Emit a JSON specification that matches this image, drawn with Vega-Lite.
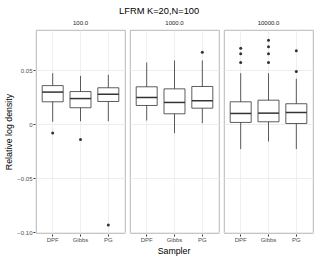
{
  "$schema": "https://vega.github.io/schema/vega-lite/v6.json",
  "padding": {"left": 4, "top": 6, "right": 3, "bottom": 0},
  "title": {"text": "LFRM K=20,N=100", "fontSize": 9.3, "fontWeight": "normal", "font": "Liberation Sans", "color": "#000000", "anchor": "middle", "offset": 4},
  "data": {"values": [
    {"N": "100.0", "Sampler": "DPF", "kind": "box", "lo": 0.0025, "q1": 0.021, "med": 0.030, "q3": 0.036, "hi": 0.0475},
    {"N": "100.0", "Sampler": "Gibbs", "kind": "box", "lo": 0.003, "q1": 0.0155, "med": 0.024, "q3": 0.0305, "hi": 0.045},
    {"N": "100.0", "Sampler": "PG", "kind": "box", "lo": 0.003, "q1": 0.0213, "med": 0.028, "q3": 0.034, "hi": 0.046},
    {"N": "1000.0", "Sampler": "DPF", "kind": "box", "lo": 0.0037, "q1": 0.0176, "med": 0.025, "q3": 0.0349, "hi": 0.0574},
    {"N": "1000.0", "Sampler": "Gibbs", "kind": "box", "lo": -0.008, "q1": 0.0099, "med": 0.0204, "q3": 0.033, "hi": 0.0593},
    {"N": "1000.0", "Sampler": "PG", "kind": "box", "lo": 0.0012, "q1": 0.0151, "med": 0.022, "q3": 0.0352, "hi": 0.0593},
    {"N": "10000.0", "Sampler": "DPF", "kind": "box", "lo": -0.0228, "q1": 0.0019, "med": 0.0102, "q3": 0.021, "hi": 0.0475},
    {"N": "10000.0", "Sampler": "Gibbs", "kind": "box", "lo": -0.0157, "q1": 0.0025, "med": 0.0105, "q3": 0.0225, "hi": 0.0475},
    {"N": "10000.0", "Sampler": "PG", "kind": "box", "lo": -0.0228, "q1": 0.0009, "med": 0.0111, "q3": 0.0192, "hi": 0.0423},
    {"N": "100.0", "Sampler": "DPF", "kind": "out", "value": -0.008},
    {"N": "100.0", "Sampler": "Gibbs", "kind": "out", "value": -0.014},
    {"N": "100.0", "Sampler": "PG", "kind": "out", "value": -0.093},
    {"N": "1000.0", "Sampler": "PG", "kind": "out", "value": 0.067},
    {"N": "10000.0", "Sampler": "DPF", "kind": "out", "value": 0.0707},
    {"N": "10000.0", "Sampler": "DPF", "kind": "out", "value": 0.0655},
    {"N": "10000.0", "Sampler": "DPF", "kind": "out", "value": 0.0574},
    {"N": "10000.0", "Sampler": "Gibbs", "kind": "out", "value": 0.078},
    {"N": "10000.0", "Sampler": "Gibbs", "kind": "out", "value": 0.0719},
    {"N": "10000.0", "Sampler": "Gibbs", "kind": "out", "value": 0.0655},
    {"N": "10000.0", "Sampler": "Gibbs", "kind": "out", "value": 0.0574},
    {"N": "10000.0", "Sampler": "PG", "kind": "out", "value": 0.0682},
    {"N": "10000.0", "Sampler": "PG", "kind": "out", "value": 0.049}
  ]},
  "facet": {
    "column": {
      "field": "N", "type": "ordinal", "sort": ["100.0", "1000.0", "10000.0"],
      "header": {
        "title": "Sampler", "titleOrient": "bottom", "titleFontSize": 8.8, "titleFontWeight": "normal", "titleFont": "Liberation Sans", "titleColor": "#000000", "titlePadding": -5,
        "labelOrient": "top", "labelFontSize": 6, "labelFont": "Liberation Sans", "labelColor": "#1a1a1a", "labelPadding": 3
      }
    }
  },
  "spacing": 3,
  "spec": {
    "width": 89,
    "height": 203,
    "encoding": {
      "x": {
        "field": "Sampler", "type": "nominal", "sort": ["DPF", "Gibbs", "PG"],
        "scale": {"type": "band", "paddingInner": 0.245, "paddingOuter": 0.2225},
        "axis": {"title": null, "grid": true, "gridColor": "#ebebeb", "gridWidth": 0.8, "domain": false, "labelAngle": 0, "labelFontSize": 6, "labelFont": "Liberation Sans", "labelColor": "#4d4d4d", "tickColor": "#333333", "tickSize": 2, "labelPadding": 0}
      }
    },
    "layer": [
      {
        "transform": [{"filter": "datum.kind == 'box'"}],
        "mark": {"type": "rule", "color": "#333333", "strokeWidth": 0.8},
        "encoding": {
          "y": {"field": "lo", "type": "quantitative",
            "scale": {"domain": [-0.1005, 0.0875], "nice": false, "zero": false},
            "axis": {
              "title": "Relative log density", "titleFontSize": 8.8, "titleFontWeight": "normal", "titleFont": "Liberation Sans", "titleColor": "#000000", "titlePadding": 3,
              "values": [-0.1, -0.075, -0.05, -0.025, 0, 0.025, 0.05, 0.075],
              "labelExpr": "round(datum.value*1000) % 50 != 0 ? '' : (datum.value == 0 ? '0' : format(datum.value, '.2f'))",
              "labelFontSize": 6, "labelFont": "Liberation Sans", "labelColor": "#4d4d4d", "labelPadding": 1,
              "domain": false,
              "grid": true,
              "gridColor": "#ebebeb",
              "gridWidth": {"condition": {"test": "round(datum.value*1000) % 50 != 0", "value": 0.5}, "value": 0.9},
              "tickColor": "#333333", "tickSize": 2,
              "tickOpacity": {"condition": {"test": "round(datum.value*1000) % 50 != 0", "value": 0}, "value": 1}
            }
          },
          "y2": {"field": "hi"}
        }
      },
      {
        "transform": [{"filter": "datum.kind == 'box'"}],
        "mark": {"type": "bar", "fill": "#ffffff", "stroke": "#333333", "strokeWidth": 0.8},
        "encoding": {
          "y": {"field": "q1", "type": "quantitative"},
          "y2": {"field": "q3"}
        }
      },
      {
        "transform": [{"filter": "datum.kind == 'box'"}],
        "mark": {"type": "tick", "color": "#333333", "thickness": 1.5, "size": 21, "opacity": 1},
        "encoding": {
          "y": {"field": "med", "type": "quantitative"}
        }
      },
      {
        "transform": [{"filter": "datum.kind == 'out'"}],
        "mark": {"type": "point", "filled": true, "color": "#333333", "size": 9, "opacity": 1},
        "encoding": {
          "y": {"field": "value", "type": "quantitative"}
        }
      }
    ]
  },
  "config": {
    "view": {"stroke": "#a6a6a6", "strokeWidth": 0.8},
    "font": "Liberation Sans"
  }
}
